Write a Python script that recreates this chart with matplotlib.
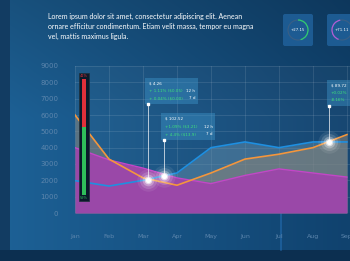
import numpy as np
import matplotlib
matplotlib.use("Agg")
import matplotlib.pyplot as plt
from matplotlib.patches import Rectangle, FancyBboxPatch, Circle, Arc
from matplotlib.colors import to_rgb

months = ["Jan", "Feb", "Mar", "Apr", "May", "Jun", "Jul", "Aug", "Sep"]
pink = [4000, 3250, 2750, 2150, 1800, 2300, 2700, 2450, 2200]
blue = [1980, 1650, 2000, 2450, 4000, 4350, 4000, 4350, 4350]
orange = [6000, 3300, 2150, 1700, 2450, 3300, 3600, 4000, 4800]
yticks = [0, 1000, 2000, 3000, 4000, 5000, 6000, 7000, 8000, 9000]

gauge_red = 41
gauge_green = 59

dot_x = [2.15, 2.62, 7.47]
dot_y = [2020, 2270, 4350]

tips = [
    ("$ 4.26", "+ 1.11% ($0.05)", "12 h", "+ 0.04% ($0.00)", "7 d"),
    ("$ 102.52", "+1.09% ($3.21)", "12 h", "+ 4.4% ($13.9)", "7 d"),
    ("$ 89.72", "+0.02%", "", "-8.16%", ""),
]
tip_boxes = [(2.06, 6670, 1.56, 1600), (2.53, 4470, 1.60, 1650), (7.41, 6550, 0.8, 1600)]

badges = ["+27.15", "+71.11"]
badge_colors = ["#2ecc71", "#b05cd8"]

text = ("Lorem ipsum dolor sit amet, consectetur adipiscing elit. Aenean\n"
        "ornare efficitur condimentum. Etiam velit massa, tempor eu magna\n"
        "vel, mattis maximus ligula.")

fig = plt.figure(figsize=(3.5, 2.61), dpi=100)

# background
bg = fig.add_axes([0, 0, 1, 1], zorder=0)
H, W = 261, 350
xs = np.linspace(0, 1, W)[None, :, None]
ys = np.linspace(0, 1, H)[:, None, None]
cl = np.array(to_rgb("#1d6196"))
cr = np.array(to_rgb("#10426e"))
img = cl * (1 - xs) + cr * xs
img = img * (0.84 + 0.16 * np.clip(ys * 2.2, 0, 1))
img = np.broadcast_to(img, (H, W, 3)).copy()
img[:, :10] = to_rgb("#123c62")
img[250:, :] = to_rgb("#0c2f50")
bg.imshow(img, extent=(0, W, H, 0), aspect="auto")
bg.set_xlim(0, W)
bg.set_ylim(H, 0)
bg.axis("off")
bg.text(48, 13, text, fontsize=5, family="Lato", color="white", va="top",
        ha="left", linespacing=1.45)
for i, (lab, col) in enumerate(zip(badges, badge_colors)):
    x0 = 283 + i * 44
    bg.add_patch(FancyBboxPatch((x0, 14), 30, 32, boxstyle="round,pad=0,rounding_size=2",
                                fc="#1f5f98", ec="none", alpha=0.9))
    cx, cy = x0 + 15, 30
    bg.add_patch(Circle((cx, cy), 10, fill=False, ec="#3a5f85", lw=0.8))
    if i == 0:
        bg.add_patch(Arc((cx, cy), 20, 20, theta1=-90, theta2=75, ec=col, lw=0.9))
    else:
        bg.add_patch(Arc((cx, cy), 20, 20, theta1=110, theta2=260, ec=col, lw=0.9))
    bg.text(cx, cy, lab, fontsize=2.8, color="white", ha="center", va="center")
bg.plot([281, 281], [213, 250], color="#2a7fd0", lw=1.2, alpha=0.45)

# main chart
ax = fig.add_axes([75 / 350, 1 - 213 / 261, 275 / 350, 147 / 261], zorder=1)
ax.set_facecolor((1, 1, 1, 0.03))
x = np.arange(len(months))
ax.fill_between(x, 0, blue, color="#6a93ad", alpha=0.45, lw=0)
ax.fill_between(x, 0, orange, color="#8a8478", alpha=0.55, lw=0)
ax.fill_between(x, 0, pink, color="#9a48a8", alpha=1, lw=0)
ax.plot(x, pink, color="#c445c8", lw=1.0)
ax.plot(x, blue, color="#1f8fe0", lw=1.2)
ax.plot(x, orange, color="#f4963c", lw=1.2)

ax.set_xlim(0, 8.09)
ax.set_ylim(0, 9000)
ax.set_xticks(x)
ax.set_xticklabels(months)
ax.set_yticks(yticks)
ax.set_yticklabels([str(v) for v in yticks])
ax.tick_params(axis="x", length=0, pad=15, labelsize=4.5, labelcolor="#5d86ad")
ax.tick_params(axis="y", length=0, pad=12, labelsize=5, labelcolor="#5d86ad")
ax.grid(True, color="white", alpha=0.12, lw=0.6)
ax.set_axisbelow(True)
for s in ax.spines.values():
    s.set_visible(False)

# gauge bar
gx, gw = 0.12, 0.29
ax.add_patch(Rectangle((gx, 735), gw, 7835, fc="#0a1a2a", ec="#20303a", lw=0.5, zorder=5))
top, bot = 8200, 1100
split = top - (top - bot) * gauge_red / 100
ax.add_patch(Rectangle((gx + 0.09, split), gw - 0.18, top - split, fc="#e0303a", zorder=6))
ax.add_patch(Rectangle((gx + 0.09, bot), gw - 0.18, split - bot, fc="#2fbf5a", zorder=6))
ax.text(gx + gw / 2, 8400, f"{gauge_red}%", fontsize=2.5, color="#e0303a",
        ha="center", va="center", zorder=7)
ax.text(gx + gw / 2, 900, f"{gauge_green}%", fontsize=2.5, color="#2fbf5a",
        ha="center", va="center", zorder=7)

# tooltips
for (bx, by, bw, bh), t, dx, dy in zip(tip_boxes, tips, dot_x, dot_y):
    ax.add_patch(Rectangle((bx, by), bw, bh, fc="#3d93c8", alpha=0.45, lw=0,
                           zorder=8, clip_on=False))
    ax.plot([dx, dx], [dy, by], color="white", lw=0.6, alpha=0.8, zorder=8)
    ax.plot([dx], [by], marker="s", ms=1.5, color="white", zorder=9)
    ax.text(bx + 0.12, by + bh * 0.78, t[0], fontsize=3, color="white",
            va="center", zorder=9)
    ax.text(bx + 0.12, by + bh * 0.5, t[1], fontsize=3, color="#3fe07a",
            va="center", zorder=9)
    ax.text(bx + 0.12, by + bh * 0.22, t[3], fontsize=3, color="#3fe07a",
            va="center", zorder=9)
    ax.text(bx + bw - 0.08, by + bh * 0.5, t[2], fontsize=3, color="white",
            va="center", ha="right", zorder=9)
    ax.text(bx + bw - 0.08, by + bh * 0.22, t[4], fontsize=3, color="white",
            va="center", ha="right", zorder=9)

# glowing dots
for s, a in [(260, 0.08), (150, 0.15), (70, 0.3), (30, 0.6)]:
    ax.scatter(dot_x, dot_y, s=s, color="white", alpha=a, lw=0, zorder=10)
ax.scatter(dot_x, dot_y, s=14, color="white", lw=0, zorder=11)

fig.savefig("out.png", dpi=100)
